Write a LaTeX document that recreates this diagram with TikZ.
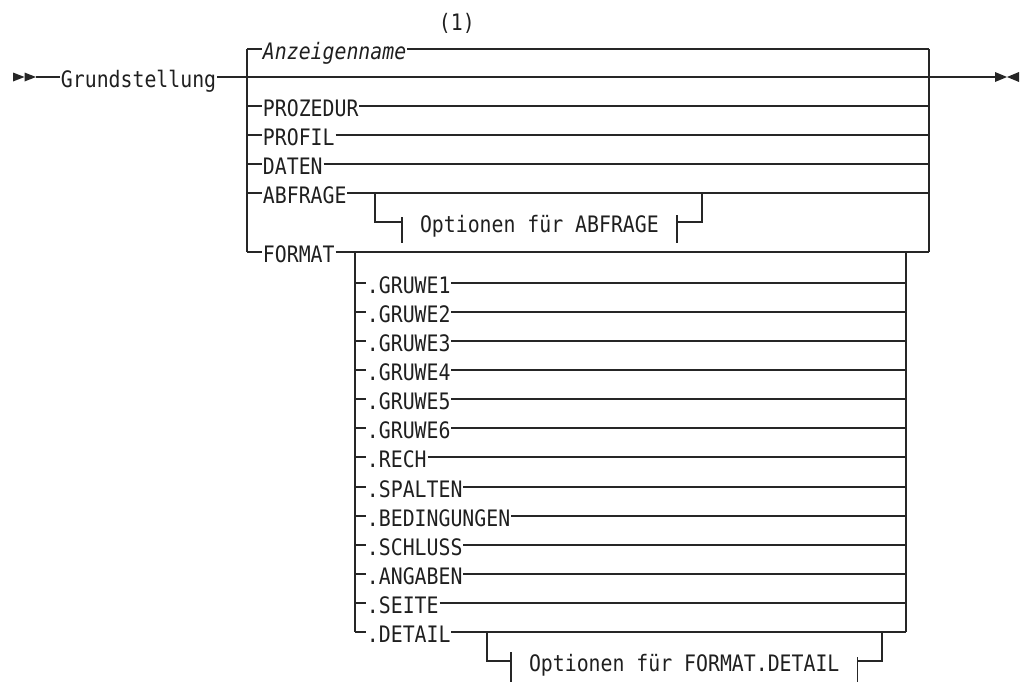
\documentclass[tikz,border=0pt]{standalone}
\usepackage{fontspec}
\newfontfamily\railfont[FakeStretch=0.875]{DejaVu Sans Mono}
\usetikzlibrary{calc}

\begin{document}
\begin{tikzpicture}[
    x=0.75pt, y=-0.75pt,
    kw/.style = {font=\railfont\fontsize{17}{19}\selectfont, text=black!88,
                 anchor=west, inner xsep=0.5pt, inner ysep=0pt,
                 text height=15pt, text depth=0pt},
    var/.style = {kw, font=\railfont\itshape\fontsize{17}{19}\selectfont},
    frag/.style = {kw, inner xsep=13.3pt},
    rail/.style = {line width=1.1pt, draw=black!85},
    tip/.style = {fill=black!85},
]
\useasboundingbox (0,0) rectangle (1024,682);

%% ---- Bus positions ----
\coordinate (lbus) at (247,0);
\coordinate (rbus) at (929,0);
\coordinate (lsub) at (355,0);
\coordinate (rsub) at (906,0);

%% ---- Start, keyword, end ----
\coordinate (beg) at (13,77);
\coordinate (fin) at (995,77);
\fill[tip] ($(beg)+(0,-4.5)$) -- ($(beg)+(11.5,0)$) -- ($(beg)+(0,4.5)$) -- cycle;
\fill[tip] ($(beg)+(11.5,-4.5)$) -- ($(beg)+(23,0)$) -- ($(beg)+(11.5,4.5)$) -- cycle;
\node[kw] (grund) at (60,77) {Grundstellung};
\draw[rail] ($(beg)+(23,0)$) -- (grund.west);
\draw[rail] (grund.east) -- (fin);
\fill[tip] ($(fin)+(0,-5)$) -- ($(fin)+(12,0)$) -- ($(fin)+(0,5)$) -- cycle;
\fill[tip] ($(fin)+(24,-5)$) -- ($(fin)+(12,0)$) -- ($(fin)+(24,5)$) -- cycle;

%% ---- Upper choice ----
\node[kw] at (438,20) (note) {(1)};
\node[var] (anz)     at (262,49)  {Anzeigenname};
\node[kw]  (proz)    at (262,106) {PROZEDUR};
\node[kw]  (profil)  at (262,135) {PROFIL};
\node[kw]  (daten)   at (262,164) {DATEN};
\node[kw]  (abfrage) at (262,193) {ABFRAGE};
\node[kw]  (format)  at (262,252) {FORMAT};

\draw[rail] (anz.west -| lbus) -- (format.west -| lbus);
\draw[rail] (anz.east -| rbus) -- (format.east -| rbus);
\foreach \n in {anz, proz, profil, daten, abfrage, format}
    \draw[rail] (\n.west -| lbus) -- (\n.west) (\n.east) -- (\n.east -| rbus);

%% ---- Optionen fuer ABFRAGE ----
\node[frag] (optabf) at (402,222) {Optionen für ABFRAGE};
\coordinate (abfin)  at (375,193);
\coordinate (abfout) at (702,193);
\draw[rail] (abfin) |- (optabf.west);
\draw[rail] (optabf.east) -| (abfout);
\draw[rail] ($(optabf.west)+(0,-5)$) -- ($(optabf.west)+(0,21)$);
\draw[rail] ($(optabf.east)+(0,-7)$) -- ($(optabf.east)+(0,21)$);

%% ---- FORMAT parts ----
\node[kw] (gruwe1)  at (366,283) {.GRUWE1};
\node[kw] (gruwe2)  at (366,312) {.GRUWE2};
\node[kw] (gruwe3)  at (366,341) {.GRUWE3};
\node[kw] (gruwe4)  at (366,370) {.GRUWE4};
\node[kw] (gruwe5)  at (366,399) {.GRUWE5};
\node[kw] (gruwe6)  at (366,428) {.GRUWE6};
\node[kw] (rech)    at (366,457) {.RECH};
\node[kw] (spalten) at (366,487) {.SPALTEN};
\node[kw] (beding)  at (366,516) {.BEDINGUNGEN};
\node[kw] (schluss) at (366,545) {.SCHLUSS};
\node[kw] (angaben) at (366,574) {.ANGABEN};
\node[kw] (seite)   at (366,603) {.SEITE};
\node[kw] (detail)  at (366,632) {.DETAIL};

\draw[rail] (format.east -| lsub) -- (detail.west -| lsub);
\draw[rail] (format.east -| rsub) -- (detail.east -| rsub);
\foreach \n in {gruwe1, gruwe2, gruwe3, gruwe4, gruwe5, gruwe6, rech,
                spalten, beding, schluss, angaben, seite, detail}
    \draw[rail] (\n.west -| lsub) -- (\n.west) (\n.east) -- (\n.east -| rsub);

%% ---- Optionen fuer FORMAT.DETAIL ----
\node[frag] (optdet) at (511,661) {Optionen für FORMAT.DETAIL};
\coordinate (detin)  at (487,632);
\coordinate (detout) at (882,632);
\draw[rail] (detin) |- (optdet.west);
\draw[rail] (optdet.east) -| (detout);
\draw[rail] ($(optdet.west)+(0,-9)$) -- ($(optdet.west)+(0,21)$);
\draw[rail] ($(optdet.east)+(0,-4)$) -- ($(optdet.east)+(0,21)$);

\end{tikzpicture}
\end{document}
